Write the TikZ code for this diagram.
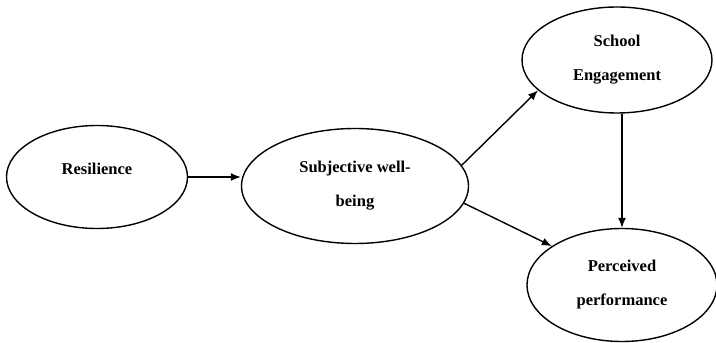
\documentclass[tikz,border=0pt]{standalone}
\usepackage{fontspec}
\setmainfont{Liberation Serif}
\usetikzlibrary{shapes.geometric,arrows.meta}
\begin{document}
\begin{tikzpicture}[x=1pt,y=1pt,
  oval/.style={ellipse,draw,line width=1.4pt,inner sep=0pt,align=center,
    font=\fontsize{16.5}{34}\selectfont\bfseries},
  conn/.style={line width=1.4pt,-{Latex[length=10pt,width=8pt]}}]
\useasboundingbox (0,0) rectangle (716,343);
\node[oval,minimum width=181pt,minimum height=103pt] (res) at (97,166) {\raisebox{8pt}[\height][\depth]{Resilience}};
\node[oval,minimum width=227pt,minimum height=115pt] (swb) at (355,157) {Subjective well-\\being};
\node[oval,minimum width=190pt,minimum height=106pt] (school) at (617,283) {School\\Engagement};
\node[oval,minimum width=190pt,minimum height=113pt] (perc) at (622,58) {Perceived\\performance};
\draw[conn] (res.east) -- (swb.west |- res.east);
\draw[conn] (swb.11) -- (school.201);
\draw[conn] (swb.-9) -- (perc.151);
\draw[conn] (school.south -| perc.north) -- (perc.north);
\end{tikzpicture}
\end{document}
